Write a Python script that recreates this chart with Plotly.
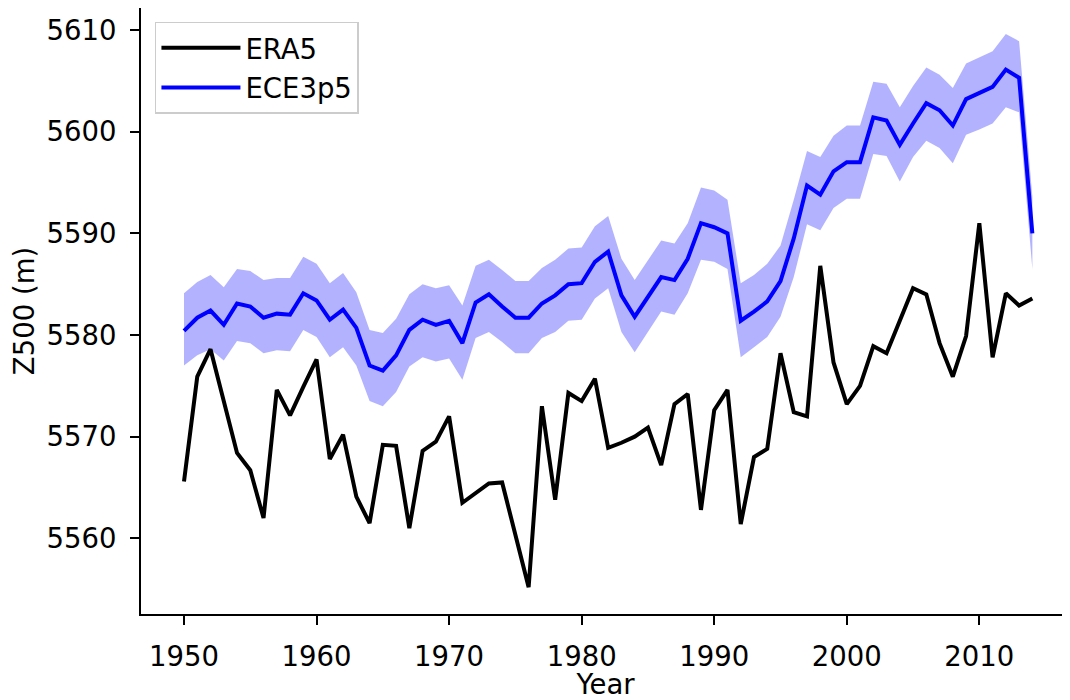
import plotly.graph_objects as go

years = list(range(1950, 2015))

era5 = [5565.6, 5575.9, 5578.6, 5573.3, 5568.4, 5566.7, 5562.0, 5574.6, 5572.1, 5574.9,
        5577.6, 5567.8, 5570.2, 5564.1, 5561.5, 5569.2, 5569.1, 5561.0, 5568.6, 5569.5,
        5572.0, 5563.5, 5564.4, 5565.4, 5565.5, 5560.3, 5555.2, 5573.0, 5563.8, 5574.3,
        5573.5, 5575.7, 5568.9, 5569.4, 5570.0, 5570.9, 5567.2, 5573.2, 5574.2, 5562.8,
        5572.6, 5574.6, 5561.4, 5568.0, 5568.8, 5578.2, 5572.4, 5572.0, 5586.8, 5577.3,
        5573.2, 5575.0, 5578.9, 5578.2, 5581.5, 5584.6, 5584.0, 5579.2, 5575.9, 5579.9,
        5591.0, 5577.8, 5584.1, 5582.9, 5583.6]

ece_mean = [5580.4, 5581.7, 5582.4, 5581.0, 5583.1, 5582.8, 5581.7, 5582.1, 5582.0, 5584.1,
            5583.4, 5581.5, 5582.5, 5580.7, 5577.0, 5576.5, 5578.0, 5580.5, 5581.5, 5581.0,
            5581.4, 5579.2, 5583.2, 5584.0, 5582.8, 5581.7, 5581.7, 5583.1, 5583.9, 5585.0,
            5585.1, 5587.2, 5588.2, 5583.9, 5581.8, 5583.8, 5585.7, 5585.4, 5587.5, 5591.0,
            5590.6, 5590.0, 5581.4, 5582.3, 5583.3, 5585.3, 5589.5, 5594.7, 5593.8, 5596.1,
            5597.0, 5597.0, 5601.4, 5601.1, 5598.7, 5600.8, 5602.8, 5602.1, 5600.6, 5603.2,
            5603.8, 5604.4, 5606.1, 5605.3, 5590.0]

ece_upper = [5584.1, 5585.2, 5585.9, 5584.7, 5586.5, 5586.3, 5585.4, 5585.6, 5585.6, 5587.7,
             5587.0, 5585.1, 5586.1, 5584.2, 5580.5, 5580.2, 5581.6, 5584.0, 5585.0, 5584.6,
             5584.9, 5582.9, 5586.8, 5587.4, 5586.4, 5585.3, 5585.3, 5586.6, 5587.4, 5588.5,
             5588.6, 5590.7, 5591.7, 5587.5, 5585.4, 5587.3, 5589.3, 5589.0, 5591.0, 5594.5,
             5594.2, 5593.3, 5585.1, 5585.9, 5587.0, 5588.8, 5593.3, 5598.1, 5597.5, 5599.6,
             5600.6, 5600.6, 5604.9, 5604.7, 5602.4, 5604.5, 5606.3, 5605.6, 5604.3, 5606.7,
             5607.3, 5607.9, 5609.6, 5608.9, 5593.6]

ece_lower = [5577.0, 5578.0, 5578.6, 5577.5, 5579.4, 5579.2, 5578.2, 5578.5, 5578.4, 5580.5,
             5579.8, 5577.8, 5578.8, 5577.0, 5573.5, 5573.0, 5574.4, 5576.9, 5577.8, 5577.4,
             5577.7, 5575.6, 5579.7, 5580.3, 5579.3, 5578.2, 5578.2, 5579.7, 5580.3, 5581.4,
             5581.5, 5583.6, 5584.6, 5580.3, 5578.3, 5580.3, 5582.3, 5582.0, 5584.1, 5587.4,
             5587.2, 5586.5, 5577.8, 5578.8, 5579.8, 5581.8, 5585.7, 5590.9, 5590.3, 5592.5,
             5593.4, 5593.4, 5597.8, 5597.6, 5595.1, 5597.5, 5599.1, 5598.4, 5596.9, 5599.7,
             5600.2, 5600.8, 5602.4, 5601.9, 5586.5]

x_ticks = [1950, 1960, 1970, 1980, 1990, 2000, 2010]
y_ticks = [5560, 5570, 5580, 5590, 5600, 5610]

FONT = "DejaVu Sans"
FS = 27.5

fig = go.Figure()

# ensemble spread band
fig.add_trace(go.Scatter(x=years, y=ece_lower, mode="lines", line=dict(width=0),
                         hoverinfo="skip", showlegend=False))
fig.add_trace(go.Scatter(x=years, y=ece_upper, mode="lines", line=dict(width=0),
                         fill="tonexty", fillcolor="rgba(0,0,255,0.3)",
                         hoverinfo="skip", showlegend=False))

fig.add_trace(go.Scatter(x=years, y=era5, mode="lines", name="ERA5", legendgroup="a",
                         line=dict(color="black", width=4)))
fig.add_trace(go.Scatter(x=years, y=ece_mean, mode="lines", name="ECE3p5", legendgroup="b",
                         line=dict(color="blue", width=4)))

# page body has an 8px margin, so the figure is sized to fit the 1070x700 window
fig.update_layout(
    width=1062, height=692,
    margin=dict(l=133, r=0, t=0, b=86),
    paper_bgcolor="white", plot_bgcolor="white",
    font=dict(family=FONT, size=FS, color="black"),
    legend=dict(x=0.015, y=0.977, xanchor="left", yanchor="top",
                bgcolor="white", bordercolor="#cccccc", borderwidth=1.5,
                font=dict(size=FS), traceorder="grouped", tracegroupgap=1,
                itemwidth=79),
    showlegend=True,
)

fig.update_xaxes(
    range=[1946.756, 2016.84], tickvals=x_ticks, ticktext=[str(v) for v in x_ticks],
    showgrid=False, zeroline=False, automargin=False,
    showline=True, linecolor="black", linewidth=2, mirror=True,
    ticks="outside", ticklen=9, tickwidth=2, tickcolor="black",
    ticklabelstandoff=8,
    title=dict(text="Year", standoff=0, font=dict(size=FS)),
)
fig.update_yaxes(
    range=[5552.56, 5612.16], tickvals=y_ticks, ticktext=[str(v) for v in y_ticks],
    showgrid=False, zeroline=False, automargin=False,
    showline=True, linecolor="black", linewidth=2, mirror=False,
    ticks="outside", ticklen=9, tickwidth=2, tickcolor="black",
    ticklabelstandoff=8,
    title=dict(text="Z500 (m)", standoff=12, font=dict(size=FS)),
)

fig.write_html("out.html")
